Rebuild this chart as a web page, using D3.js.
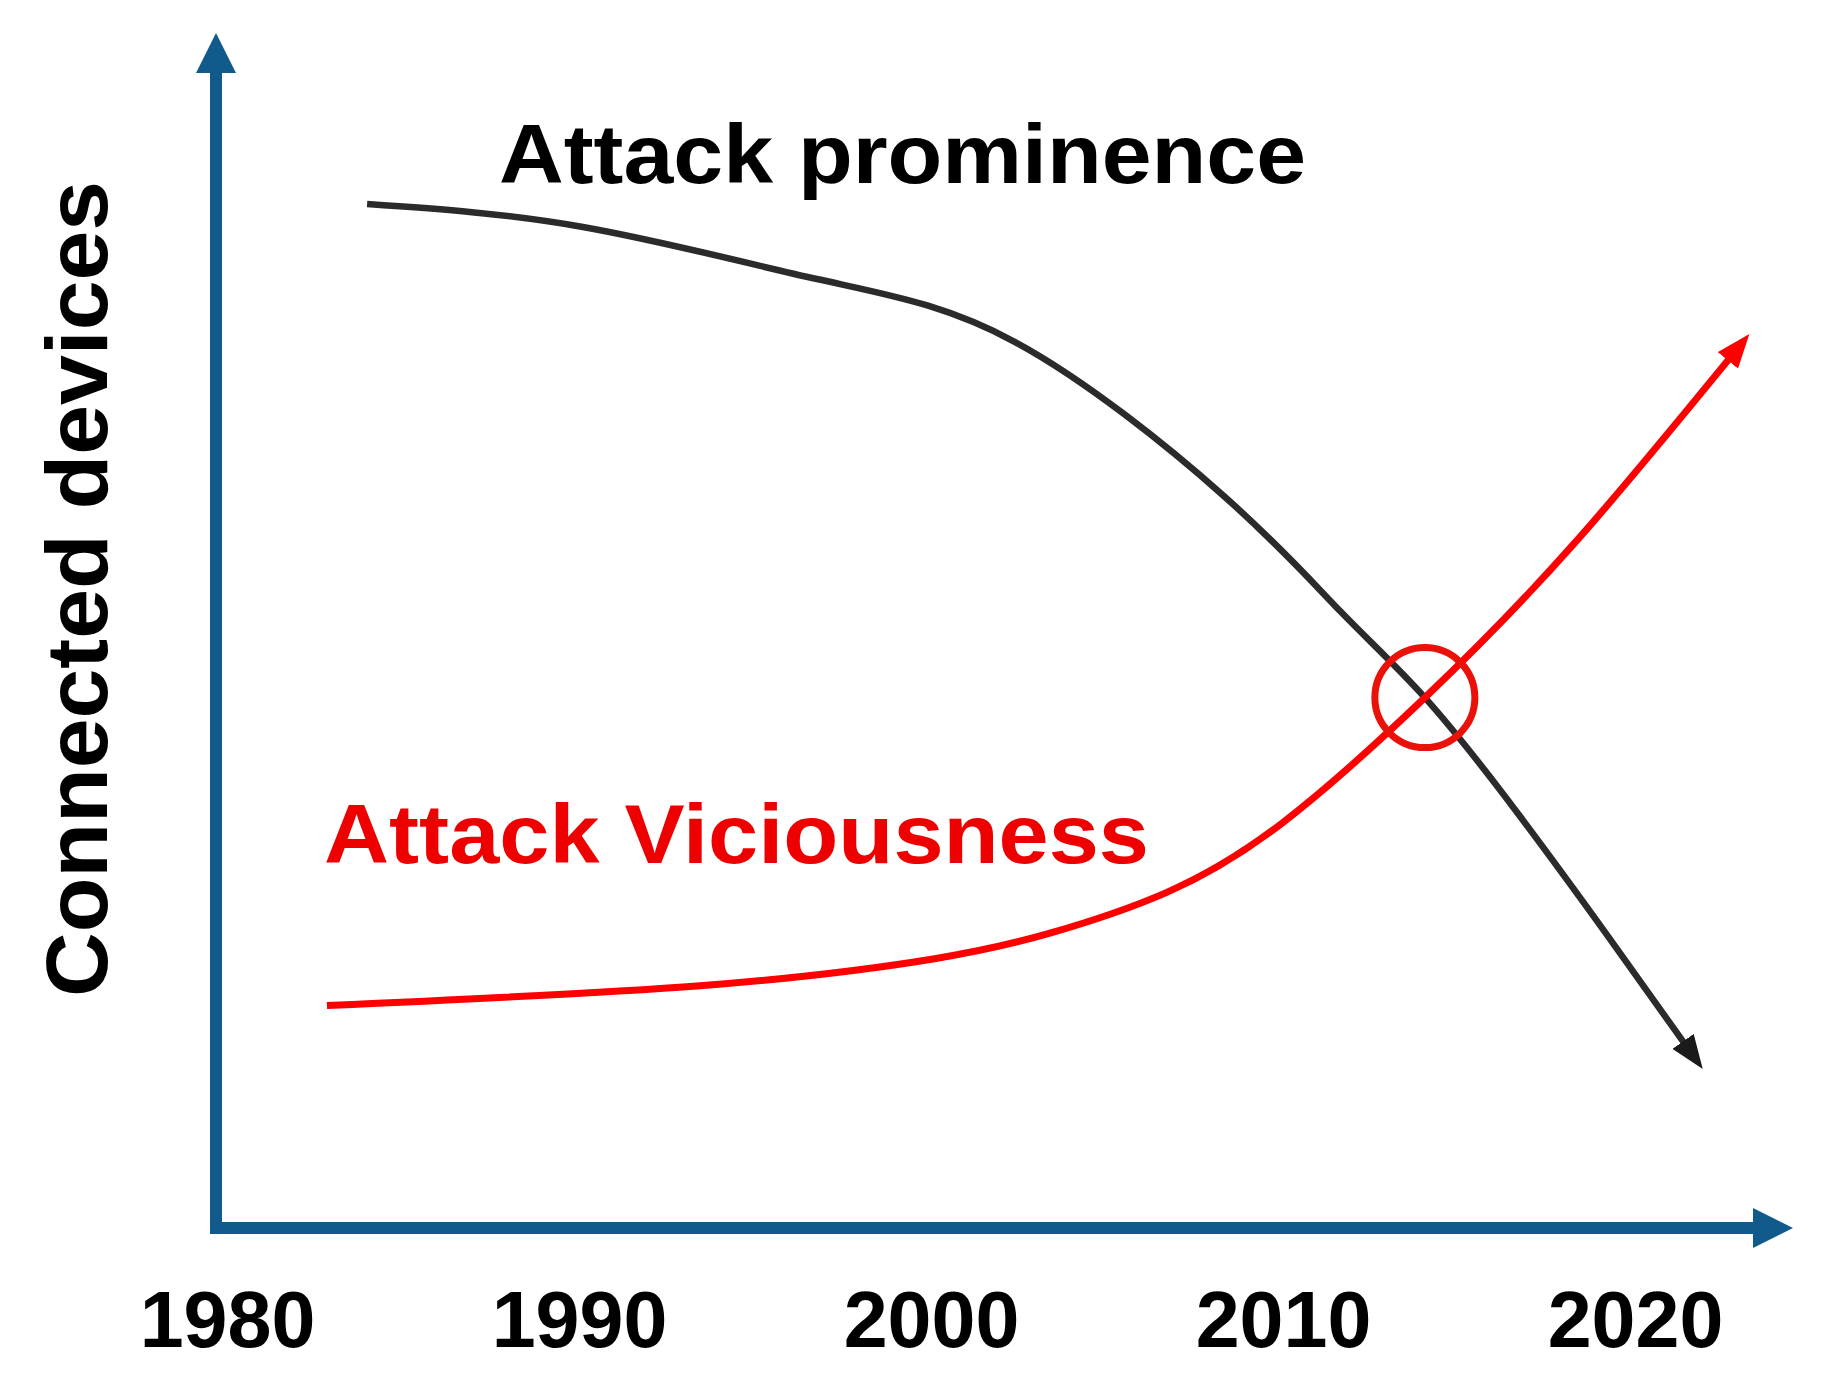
<!DOCTYPE html>
<html>
<head>
<meta charset="utf-8">
<script src="https://cdn.jsdelivr.net/npm/d3@7"></script>
<style>
  html, body { margin: 0; padding: 0; background: #fff; }
  svg { display: block; }
</style>
</head>
<body>
<div id="chart"></div>
<script>
// tick labels on the time axis
const years = [1980, 1990, 2000, 2010, 2020]

// "Attack prominence" curve (black)
const prominenceYears = [1983.98, 1990.11, 1996.76, 2002.39, 2008.35, 2011.65, 2014.03, 2016.62, 2019.29, 2021.76]
const prominenceValues = [85.33, 83.42, 79.08, 73.83, 60.92, 51.33, 44.2, 34.75, 24.08, 13.92]

// "Attack Viciousness" curve (red)
const viciousYears = [1982.84, 1993.44, 2000.06, 2003.38, 2006.7, 2010.0, 2014.03, 2018.3, 2023.07]
const viciousValues = [18.54, 20.19, 22.42, 24.57, 27.97, 33.8, 44.2, 57.13, 73.85]

// where the two curves cross
const crossingYear = 2014.03
const crossingValue = 44.2

const width = 1829,
    height = 1380,
    axisColor = '#115a8c',
    font = '"Liberation Sans", Arial, Helvetica, sans-serif'

const x = d3.scaleLinear().domain([1980, 2020]).range([227, 1635])
const y = d3.scaleLinear().domain([0, 100]).range([1228, 28])

const svg = d3.select('#chart')
    .append('svg')
    .attr('width', width)
    .attr('height', height)
    .attr('viewBox', [0, 0, width, height])
    .style('background', '#fff')

const defs = svg.append('defs')

// arrowheads: one for the axes, one per curve colour
function arrow(id, len, half, color, refX) {
    defs.append('marker')
        .attr('id', id)
        .attr('viewBox', `0 ${-half} ${len} ${half * 2}`)
        .attr('refX', refX)
        .attr('refY', 0)
        .attr('markerWidth', len)
        .attr('markerHeight', half * 2)
        .attr('markerUnits', 'userSpaceOnUse')
        .attr('orient', 'auto')
        .append('path')
        .attr('d', `M0,${-half}L${len},0L0,${half}Z`)
        .attr('fill', color)
}
arrow('axis-arrow', 40, 20, axisColor, 3)
arrow('black-arrow', 34, 13, '#1a1a1a', 24)
arrow('red-arrow', 34, 13, '#ff0000', 24)

// axes
const x0 = 216
svg.append('line')
    .attr('x1', x0).attr('y1', y(0) + 6)
    .attr('x2', x0).attr('y2', 70)
    .attr('stroke', axisColor)
    .attr('stroke-width', 12)
    .attr('marker-end', 'url(#axis-arrow)')

svg.append('line')
    .attr('x1', x0 - 6).attr('y1', y(0))
    .attr('x2', 1756).attr('y2', y(0))
    .attr('stroke', axisColor)
    .attr('stroke-width', 12)
    .attr('marker-end', 'url(#axis-arrow)')

// year labels
const xAxis = svg.append('g')
    .attr('transform', `translate(0,${y(0)})`)
    .call(d3.axisBottom(x).tickValues(years).tickSize(0).tickFormat(d3.format('d')))
xAxis.select('.domain').remove()
xAxis.selectAll('text')
    .attr('y', 119)
    .attr('dy', null)
    .attr('fill', '#000')
    .attr('font-family', font)
    .attr('font-weight', 'bold')
    .attr('font-size', 79)

// y label
svg.append('text')
    .attr('transform', 'translate(107,589) rotate(-90)')
    .attr('text-anchor', 'middle')
    .attr('font-family', font)
    .attr('font-weight', 'bold')
    .attr('font-size', 88)
    .attr('textLength', 816)
    .attr('lengthAdjust', 'spacingAndGlyphs')
    .attr('fill', '#000')
    .text('Connected devices')

// curves
const line = d3.line()
    .x(d => x(d[0]))
    .y(d => y(d[1]))
    .curve(d3.curveNatural)

svg.append('path')
    .datum(d3.zip(prominenceYears, prominenceValues))
    .attr('d', line)
    .attr('fill', 'none')
    .attr('stroke', '#2b2b2b')
    .attr('stroke-width', 6.5)
    .attr('marker-end', 'url(#black-arrow)')

svg.append('path')
    .datum(d3.zip(viciousYears, viciousValues))
    .attr('d', line)
    .attr('fill', 'none')
    .attr('stroke', '#ff0000')
    .attr('stroke-width', 7)
    .attr('marker-end', 'url(#red-arrow)')

// circle on the crossing
svg.append('circle')
    .attr('cx', x(crossingYear))
    .attr('cy', y(crossingValue))
    .attr('r', 50)
    .attr('fill', 'none')
    .attr('stroke', '#ea1208')
    .attr('stroke-width', 7)

// curve labels
svg.append('text')
    .attr('x', 499)
    .attr('y', 183)
    .attr('font-family', font)
    .attr('font-weight', 'bold')
    .attr('font-size', 84)
    .attr('textLength', 807)
    .attr('lengthAdjust', 'spacingAndGlyphs')
    .attr('fill', '#000')
    .text('Attack prominence')

svg.append('text')
    .attr('x', 324)
    .attr('y', 863)
    .attr('font-family', font)
    .attr('font-weight', 'bold')
    .attr('font-size', 84)
    .attr('textLength', 825)
    .attr('lengthAdjust', 'spacingAndGlyphs')
    .attr('fill', '#ee0000')
    .text('Attack Viciousness')
</script>
</body>
</html>
